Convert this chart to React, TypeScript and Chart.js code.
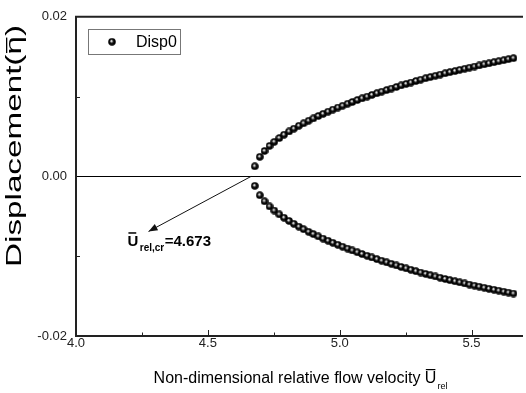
import React, { useEffect, useRef } from "react";
import { Chart, registerables } from "chart.js";

Chart.register(...registerables);

const velocityU = [
  4.678, 4.697, 4.715, 4.734, 4.752, 4.771, 4.789, 4.808, 4.826, 4.845,
  4.863, 4.882, 4.9, 4.919, 4.937, 4.956, 4.974, 4.993, 5.011, 5.03,
  5.048, 5.067, 5.085, 5.104, 5.122, 5.141, 5.159, 5.178, 5.196, 5.215,
  5.233, 5.252, 5.27, 5.289, 5.307, 5.326, 5.344, 5.363, 5.381, 5.4,
  5.418, 5.437, 5.455, 5.474, 5.492, 5.511, 5.529, 5.548, 5.566, 5.585,
  5.603, 5.622, 5.64, 5.659,
];
const dispUpper = [
  0.00127, 0.00245, 0.00319, 0.00382, 0.00433, 0.00481, 0.00522, 0.00563, 0.00598, 0.00634,
  0.00666, 0.00698, 0.00727, 0.00757, 0.00784, 0.00811, 0.00837, 0.00863, 0.00886, 0.00911,
  0.00933, 0.00957, 0.00978, 0.01, 0.01021, 0.01042, 0.01062, 0.01082, 0.01101, 0.01121,
  0.0114, 0.01159, 0.01176, 0.01195, 0.01212, 0.0123, 0.01245, 0.01261, 0.01276, 0.01292,
  0.01306, 0.0132, 0.01335, 0.01349, 0.01363, 0.01377, 0.0139, 0.01404, 0.01417, 0.01431,
  0.01443, 0.01456, 0.01469, 0.01482,
];
const dispLower = [
  -0.00118, -0.00236, -0.00312, -0.00376, -0.00428, -0.00476, -0.00518, -0.00558, -0.00594, -0.0063,
  -0.00662, -0.00694, -0.00723, -0.00752, -0.00779, -0.00806, -0.00832, -0.00857, -0.00881, -0.00905,
  -0.00928, -0.00951, -0.00973, -0.00995, -0.01016, -0.01037, -0.01057, -0.01077, -0.01096, -0.01115,
  -0.01134, -0.01152, -0.0117, -0.01188, -0.01205, -0.01222, -0.01238, -0.01254, -0.0127, -0.01285,
  -0.013, -0.01314, -0.01328, -0.01342, -0.01356, -0.01369, -0.01382, -0.01395, -0.01408, -0.0142,
  -0.01432, -0.01444, -0.01456, -0.01468,
];

const xMin = 4.0;
const xMax = 5.6875;
const yMin = -0.02;
const yMax = 0.02;
const xTicks = [4.0, 4.5, 5.0, 5.5];
const xMinorTicks = [4.25, 4.75, 5.25];
const yTicks = [-0.02, 0, 0.02];
const yMinorTicks = [-0.01, 0.01];

const seriesName = "Disp0";
const criticalVelocity = 4.673;
const arrowTail = { x: 4.664, y: 0 };
const arrowHead = { x: 4.275, y: -0.0069 };
const labelAnchor = { x: 4.195, y: -0.00875 };

const yTitle = "Displacement(";
const yTitleSymbol = "\u03b7";
const xTitle = "Non-dimensional relative flow velocity ";
const uSymbol = "U";
const relSub = "rel";
const critSub = "rel,cr";

const FONT = "'Liberation Sans', Arial, Helvetica, sans-serif";

function makeSphere(size: number): HTMLCanvasElement {
  const c = document.createElement("canvas");
  c.width = size;
  c.height = size;
  const g = c.getContext("2d")!;
  const r = size / 2;
  const grad = g.createRadialGradient(r - 0.7, r - 0.9, 0, r, r, r);
  grad.addColorStop(0, "#ffffff");
  grad.addColorStop(0.18, "#d0d0d0");
  grad.addColorStop(0.4, "#2a2a2a");
  grad.addColorStop(0.65, "#000000");
  grad.addColorStop(1, "#000000");
  g.beginPath();
  g.arc(r, r, r - 0.2, 0, Math.PI * 2);
  g.fillStyle = grad;
  g.fill();
  return c;
}

export default function App() {
  const ref = useRef<HTMLCanvasElement | null>(null);

  useEffect(() => {
    document.body.style.margin = "0";
    const canvas = ref.current;
    if (!canvas) return;
    const sphere = makeSphere(8);

    const points = [
      ...velocityU.map((x, i) => ({ x, y: dispUpper[i] })),
      ...velocityU.map((x, i) => ({ x, y: dispLower[i] })),
    ];

    const framePlugin = {
      id: "frame",
      beforeDatasetsDraw(chart: any) {
        const { ctx, chartArea, scales } = chart;
        const ys = scales.y;
        ctx.save();
        const y0 = Math.round(ys.getPixelForValue(0)) + 0.5;
        ctx.strokeStyle = "#000";
        ctx.lineWidth = 1;
        ctx.beginPath();
        ctx.moveTo(chartArea.left, y0);
        ctx.lineTo(chartArea.right, y0);
        ctx.stroke();
        ctx.restore();
      },
      afterDatasetsDraw(chart: any) {
        const { ctx, chartArea, scales } = chart;
        const xs = scales.x;
        const ys = scales.y;
        const L = chartArea.left;
        const T = chartArea.top;
        const B = chartArea.bottom;
        const R = chartArea.right;
        ctx.save();
        ctx.strokeStyle = "#222";
        ctx.lineWidth = 2;
        ctx.beginPath();
        ctx.moveTo(L, B);
        ctx.lineTo(L, T);
        ctx.lineTo(R + 2, T);
        ctx.moveTo(L - 1, B);
        ctx.lineTo(R + 2, B);
        ctx.stroke();
        ctx.lineWidth = 1;
        ctx.beginPath();
        xTicks.forEach((v) => {
          const px = Math.round(xs.getPixelForValue(v)) + 0.5;
          ctx.moveTo(px, B);
          ctx.lineTo(px, B - 6);
        });
        xMinorTicks.forEach((v) => {
          const px = Math.round(xs.getPixelForValue(v)) + 0.5;
          ctx.moveTo(px, B);
          ctx.lineTo(px, B - 3.5);
        });
        yMinorTicks.forEach((v) => {
          const py = Math.round(ys.getPixelForValue(v)) + 0.5;
          ctx.moveTo(L, py);
          ctx.lineTo(L + 4, py);
        });
        ctx.stroke();

        // arrow
        const ax0 = xs.getPixelForValue(arrowTail.x);
        const ay0 = ys.getPixelForValue(arrowTail.y);
        const ax1 = xs.getPixelForValue(arrowHead.x);
        const ay1 = ys.getPixelForValue(arrowHead.y);
        ctx.strokeStyle = "#111";
        ctx.fillStyle = "#111";
        ctx.lineWidth = 1;
        ctx.beginPath();
        ctx.moveTo(ax0, ay0);
        ctx.lineTo(ax1, ay1);
        ctx.stroke();
        const ang = Math.atan2(ay1 - ay0, ax1 - ax0);
        const hl = 9;
        const hw = 3.5;
        ctx.beginPath();
        ctx.moveTo(ax1, ay1);
        ctx.lineTo(
          ax1 - hl * Math.cos(ang) + hw * Math.sin(ang),
          ay1 - hl * Math.sin(ang) - hw * Math.cos(ang)
        );
        ctx.lineTo(
          ax1 - hl * Math.cos(ang) - hw * Math.sin(ang),
          ay1 - hl * Math.sin(ang) + hw * Math.cos(ang)
        );
        ctx.closePath();
        ctx.fill();

        // label
        const lx = xs.getPixelForValue(labelAnchor.x);
        const ly = ys.getPixelForValue(labelAnchor.y);
        ctx.fillStyle = "#000";
        ctx.textBaseline = "alphabetic";
        ctx.textAlign = "left";
        ctx.font = `bold 15px ${FONT}`;
        ctx.fillText(uSymbol, lx, ly);
        const wU = ctx.measureText(uSymbol).width;
        ctx.fillRect(lx + 1, ly - 14, wU - 3, 1.5);
        ctx.font = `bold 10px ${FONT}`;
        ctx.fillText(critSub, lx + wU + 1.5, ly + 5);
        const wS = ctx.measureText(critSub).width;
        ctx.font = `bold 15px ${FONT}`;
        ctx.fillText("=" + criticalVelocity.toFixed(3), lx + wU + 2 + wS, ly);

        // legend
        const bx = L + 12;
        const by = T + 12;
        ctx.strokeStyle = "#777";
        ctx.lineWidth = 1;
        ctx.strokeRect(Math.round(bx) + 0.5, Math.round(by) + 0.5, 92, 25);
        ctx.drawImage(sphere, bx + 24 - 4, by + 13 - 4);
        ctx.fillStyle = "#000";
        ctx.font = `16px ${FONT}`;
        ctx.textBaseline = "middle";
        ctx.fillText(seriesName, bx + 48, by + 13.5);

        // y title
        ctx.save();
        ctx.translate(15, 146);
        ctx.rotate(-Math.PI / 2);
        ctx.font = `22px ${FONT}`;
        const full = yTitle + yTitleSymbol + ")";
        const wFull = ctx.measureText(full).width;
        const sc = 242 / wFull;
        ctx.scale(sc, 1);
        ctx.textAlign = "left";
        ctx.textBaseline = "middle";
        ctx.fillStyle = "#000";
        ctx.fillText(full, -wFull / 2, 0);
        const wPre = ctx.measureText(yTitle).width;
        const wEta = ctx.measureText(yTitleSymbol).width;
        ctx.fillRect(-wFull / 2 + wPre + 1, -9, wEta - 2, 1.3);
        ctx.restore();

        // x title
        ctx.font = `16px ${FONT}`;
        ctx.textBaseline = "alphabetic";
        ctx.textAlign = "left";
        const wx = ctx.measureText(xTitle).width;
        const wUx = ctx.measureText(uSymbol).width;
        ctx.font = `9px ${FONT}`;
        const wRel = ctx.measureText(relSub).width;
        const total = wx + wUx + 1 + wRel;
        const cx = (L + R) / 2 + 2;
        const sx = cx - total / 2;
        const base = 383;
        ctx.font = `16px ${FONT}`;
        ctx.fillText(xTitle, sx, base);
        ctx.fillText(uSymbol, sx + wx, base);
        ctx.fillRect(sx + wx + 1, base - 14, wUx - 2, 1.2);
        ctx.font = `9px ${FONT}`;
        ctx.fillText(relSub, sx + wx + wUx + 1, base + 6);
        ctx.restore();
      },
    };

    const chart = new Chart(canvas, {
      type: "scatter",
      data: {
        datasets: [
          {
            label: seriesName,
            data: points,
            pointStyle: sphere as any,
            pointRadius: 4,
            showLine: false,
          },
        ],
      },
      options: {
        responsive: false,
        animation: false,
        events: [],
        layout: { padding: { left: 0, top: 15, right: 0, bottom: 0 } },
        plugins: {
          legend: { display: false },
          tooltip: { enabled: false },
          title: { display: false },
        },
        scales: {
          x: {
            type: "linear",
            min: xMin,
            max: xMax,
            grid: { display: false, drawTicks: false },
            border: { display: false },
            afterBuildTicks: (s: any) => {
              s.ticks = xTicks.map((v) => ({ value: v }));
            },
            afterFit: (s: any) => {
              s.height = 57;
            },
            ticks: {
              padding: 0,
              color: "#222",
              font: { family: FONT, size: 13 },
              maxRotation: 0,
              callback: (v: any) => Number(v).toFixed(1),
            },
          },
          y: {
            type: "linear",
            min: yMin,
            max: yMax,
            grid: { display: false, drawTicks: false },
            border: { display: false },
            afterBuildTicks: (s: any) => {
              s.ticks = yTicks.map((v) => ({ value: v }));
            },
            afterFit: (s: any) => {
              s.width = 76;
            },
            ticks: {
              padding: 9,
              color: "#222",
              font: { family: FONT, size: 13 },
              callback: (v: any) => Number(v).toFixed(2),
            },
          },
        },
      },
      plugins: [framePlugin],
    });

    return () => chart.destroy();
  }, []);

  return (
    <div style={{ position: "absolute", left: 0, top: 0, width: 526, height: 393, background: "#fff" }}>
      <canvas ref={ref} width={526} height={393} style={{ display: "block" }} />
    </div>
  );
}
